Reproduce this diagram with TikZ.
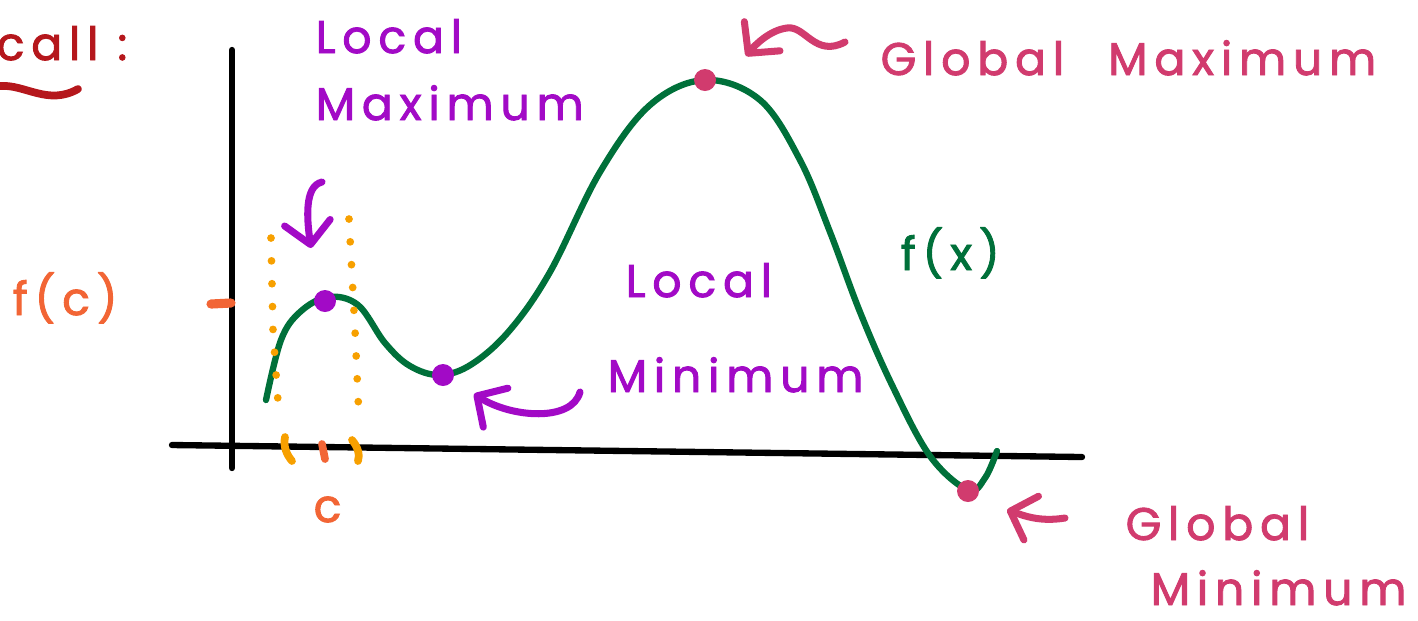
\documentclass[tikz,border=0pt]{standalone}
\usepackage{fontspec}
\setmainfont{Poppins}
\newfontfamily\hand[LetterSpace=15,FakeBold=2]{Poppins}
\usetikzlibrary{arrows.meta}
\definecolor{fgreen}{HTML}{00703A}
\definecolor{dred}{HTML}{B5171C}
\definecolor{lpurple}{HTML}{A20AC6}
\definecolor{gpink}{HTML}{D13B6E}
\definecolor{corange}{HTML}{F26535}
\definecolor{gold}{HTML}{F7A000}

\begin{document}
\begin{tikzpicture}[x=0.01cm,y=-0.01cm,>={Straight Barb[length=2.2mm,width=4.6mm,round]},
  axis/.style={line width=1.8pt,line cap=round},
  curve/.style={draw=fgreen,line width=1.8pt,line cap=round,line join=round},
  dot/.style={circle,inner sep=0pt,minimum size=2.2mm},
  pen/.style={line width=2pt,line cap=round,->},
  guide/.style={draw=gold,line width=2.2pt,line cap=round,dash pattern=on 0pt off 6.5pt},
  stroke/.style={line width=2.2pt,line cap=round},
  lbl/.style={font=\hand\fontsize{13}{16}\selectfont,inner sep=0pt,anchor=base west}]
  \useasboundingbox (0,0) rectangle (1418,620);
  % axes
  \coordinate (ytop) at (232,50); \coordinate (ybot) at (232,468);
  \coordinate (xl) at (172,445); \coordinate (xr) at (1082,457);
  \draw[axis] (ytop) -- (ybot);
  \draw[axis] (xl) -- (xr);
  % the function
  \draw[curve] plot[smooth,tension=0.6] coordinates {(266,400) (281,340) (300,312) (328,297) (358,305) (385,343) (410,366) (440,375)
    (472,364) (510,330) (550,272) (600,172) (650,105) (705,80) (760,100) (800,160) (830,232) (860,312) (892,385) (930,456)
    (968,490) (985,478) (997,451)};
  \node[dot,fill=lpurple] (lmax) at (325,301) {};
  \node[dot,fill=lpurple] (lmin) at (443,375) {};
  \node[dot,fill=gpink] (gmax) at (705,80) {};
  \node[dot,fill=gpink] (gmin) at (968,491) {};
  % the interval round c
  \draw[guide] (271,238) -- (273,330) -- (279,416);
  \draw[guide] (349,219) -- (355,330) -- (359,418);
  \draw[stroke,gold] (285,437) .. controls (283,447) and (287,455) .. (292,461);
  \draw[stroke,gold] (352,440) .. controls (358,447) and (360,455) .. (358,461);
  \draw[stroke,corange] (322,444) -- (325,459);
  \draw[stroke,corange,line width=2.6pt] (211,304) -- (231,303);
  % labels
  \node[lbl,text=dred] (call) at (-4,60) {call :};
  \draw[stroke,dred] (0,86) .. controls (25,84) and (48,106) .. (78,89);
  \node[lbl,text=corange] (fc) at (12,315) {f(c)};
  \node[lbl,text=corange] (c) at (313,522) {c};
  \node[lbl,text=lpurple] (lmaxa) at (315,53) {Local};
  \node[lbl,text=lpurple] (lmaxb) at (315,120) {Maximum};
  \node[lbl,text=lpurple] (lmina) at (625,297) {Local};
  \node[lbl,text=lpurple] (lminb) at (607,392) {Minimum};
  \node[lbl,text=gpink] (gmaxl) at (880,75) {Global\hspace{2.5mm} Maximum};
  \node[lbl,text=fgreen] (fx) at (900,270) {f(x)};
  \node[lbl,text=gpink] (gmina) at (1125,540) {Global};
  \node[lbl,text=gpink] (gminb) at (1150,605) {Minimum};
  % arrows
  \coordinate (a1) at (322,182); \coordinate (a1e) at (311,248);
  \draw[pen,lpurple] (a1) .. controls (304,186) and (307,220) .. (a1e);
  \coordinate (a2) at (580,392); \coordinate (a2e) at (474,394);
  \draw[pen,lpurple] (a2) .. controls (572,422) and (512,418) .. (a2e);
  \coordinate (a3) at (845,42); \coordinate (a3m) at (787,28); \coordinate (a3e) at (746,56);
  \draw[pen,gpink] (a3) .. controls (815,58) and (805,25) .. (a3m) .. controls (770,30) and (755,45) .. (a3e);
  \coordinate (a4) at (1065,518); \coordinate (a4e) at (1007,510);
  \draw[pen,gpink] (a4) .. controls (1040,522) and (1025,516) .. (a4e);
\end{tikzpicture}
\end{document}
